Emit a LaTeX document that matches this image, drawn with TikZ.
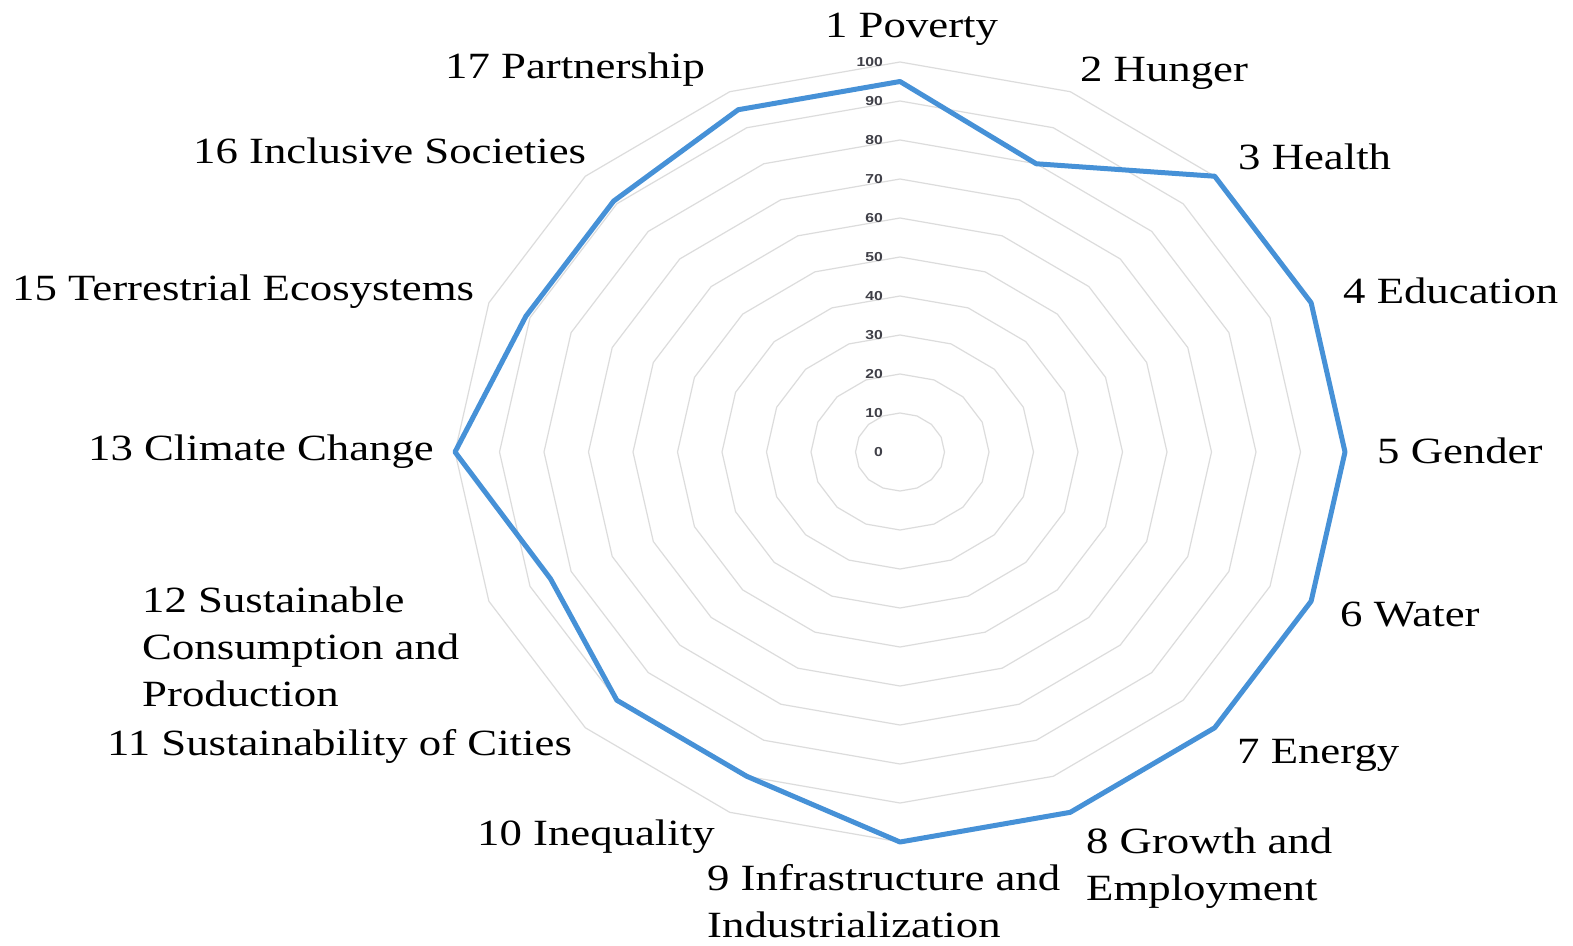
\documentclass[tikz,border=0pt]{standalone}
\usepackage{fontspec}
\setmainfont{Liberation Serif}[FakeStretch=1.21]
\newfontfamily\tickfont{Liberation Sans}[FakeStretch=1.21]

\definecolor{sdgblue}{RGB}{70,145,215}
\definecolor{ringgray}{RGB}{220,220,220}
\definecolor{tickgray}{RGB}{64,64,72}

\tikzset{
  lbl/.style={inner sep=0pt, anchor=base west, align=left,
    font=\fontsize{37}{47}\selectfont},
  tick/.style={inner sep=0pt, anchor=east, text=tickgray,
    font=\tickfont\bfseries\fontsize{13}{13}\selectfont},
  ringline/.style={ringgray, line width=1.2pt},
  dataline/.style={sdgblue, line width=5pt, line join=round}
}

\begin{document}
\begin{tikzpicture}[x=1pt,y=-1pt]
\useasboundingbox (0,0) rectangle (1573,945);
\fill[white] (0,0) rectangle (1573,945);

\begin{scope}[shift={(900,452)}, x=4.45pt, y=3.9pt]
% grid rings
\foreach \v in {10,20,...,100}
  \draw[ringline] (0:\v) \foreach \k in {1,...,15} {-- (\k*22.5:\v)} -- cycle;
% scores
\coordinate (p1) at (90:95);
\coordinate (p2) at (67.5:80);
\coordinate (p3) at (45:100);
\coordinate (p4) at (22.5:100);
\coordinate (p5) at (0:100);
\coordinate (p6) at (-22.5:100);
\coordinate (p7) at (-45:100);
\coordinate (p8) at (-67.5:100);
\coordinate (p9) at (-90:100);
\coordinate (p10) at (-112.5:90);
\coordinate (p11) at (-135:90);
\coordinate (p12) at (-157.5:85);
\coordinate (p13) at (180:100);
\coordinate (p15) at (157.5:91);
\coordinate (p16) at (135:91);
\coordinate (p17) at (112.5:95);
\end{scope}

\draw[dataline] (p1) -- (p2) -- (p3) -- (p4) -- (p5) -- (p6) -- (p7) -- (p8)
  -- (p9) -- (p10) -- (p11) -- (p12) -- (p13) -- (p15) -- (p16) -- (p17) -- cycle;

% axis values
\node[tick] (t100) at (883,62) {100};
\node[tick] (t90) at (883,101) {90};
\node[tick] (t80) at (883,140) {80};
\node[tick] (t70) at (883,179) {70};
\node[tick] (t60) at (883,218) {60};
\node[tick] (t50) at (883,257) {50};
\node[tick] (t40) at (883,296) {40};
\node[tick] (t30) at (883,335) {30};
\node[tick] (t20) at (883,374) {20};
\node[tick] (t10) at (883,413) {10};
\node[tick] (t0) at (883,452) {0};

% goal labels (base = last line)
\node[lbl] (sdg1) at (825,37) {1 Poverty};
\node[lbl] (sdg2) at (1080,81) {2 Hunger};
\node[lbl] (sdg3) at (1238,169) {3 Health};
\node[lbl] (sdg4) at (1343,303) {4 Education};
\node[lbl] (sdg5) at (1377,463) {5 Gender};
\node[lbl] (sdg6) at (1340,626) {6 Water};
\node[lbl] (sdg7) at (1237,763) {7 Energy};
\node[lbl] (sdg8) at (1086,900) {8 Growth and\\Employment};
\node[lbl] (sdg9) at (707,937) {9 Infrastructure and\\Industrialization};
\node[lbl] (sdg10) at (477,845) {10 Inequality};
\node[lbl] (sdg11) at (107,755) {11 Sustainability of Cities};
\node[lbl] (sdg12) at (142,706) {12 Sustainable\\Consumption and\\Production};
\node[lbl] (sdg13) at (88,460) {13 Climate Change};
\node[lbl] (sdg15) at (12,300) {15 Terrestrial Ecosystems};
\node[lbl] (sdg16) at (193,163) {16 Inclusive Societies};
\node[lbl] (sdg17) at (445,78) {17 Partnership};
\end{tikzpicture}
\end{document}
